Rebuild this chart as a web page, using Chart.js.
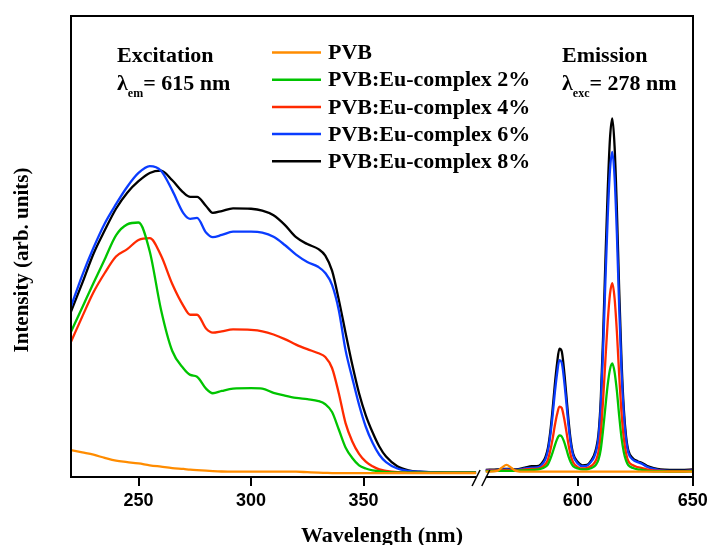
<!DOCTYPE html>
<html>
<head>
<meta charset="utf-8">
<script src="https://cdn.jsdelivr.net/npm/chart.js@4.4.1/dist/chart.umd.min.js"></script>
<style>
  html, body { margin: 0; padding: 0; background: #fff; overflow: hidden; }
  #wrap { width: 720px; height: 545px; }
</style>
</head>
<body>
<div id="wrap"><canvas id="chart"></canvas></div>
<script>
// excitation spectra, monitored at 615 nm
const excWl  = [220,225,230,235,240,245,250,255,260,265,270,273,276,280,283,287,292,300,305,310,
                315,320,325,330,333,336,339,342,345,348,351,354,357,360,365,370,375,380,390,400];
const excPVB = [5.4,4.9,4.4,3.7,3.1,2.8,2.5,2.1,1.8,1.5,1.3,1.15,1.05,0.95,0.85,0.75,0.7,0.7,0.7,0.7,
                0.7,0.7,0.6,0.5,0.45,0.4,0.4,0.4,0.4,0.4,0.4,0.4,0.4,0.4,0.4,0.4,0.4,0.4,0.4,0.4];
const exc2   = [31.2,36.5,41.8,47.0,52.2,54.6,55.0,48.7,36.0,27.0,23.2,21.8,21.4,18.8,17.8,18.3,18.8,18.9,18.8,17.9,
                17.3,16.8,16.5,16.1,15.4,13.7,9.9,6.0,3.7,2.1,1.4,1.0,0.8,0.6,0.5,0.5,0.5,0.5,0.5,0.5];
const exc4   = [29.0,34.5,39.8,44.0,47.6,49.2,51.2,51.6,47.8,41.6,36.8,34.9,34.9,31.9,31.0,31.3,31.7,31.6,31.3,30.6,
                29.6,28.4,27.4,26.5,25.7,23.3,17.8,11.3,7.3,4.6,2.9,1.9,1.2,0.9,0.6,0.5,0.5,0.5,0.5,0.5];
const exc6   = [36.7,43.5,49.5,54.8,59.0,62.8,65.8,67.3,66.3,62.0,57.0,55.8,56.0,52.8,51.8,52.3,53.0,53.0,52.8,51.9,
                50.1,48.0,46.4,45.3,44.0,41.4,35.9,27.2,21.1,15.3,10.5,7.0,4.4,2.8,1.4,0.9,0.7,0.6,0.5,0.5];
const exc8   = [35.6,41.8,48.2,53.3,58.0,61.5,64.0,65.8,66.3,64.2,61.5,60.6,60.6,58.6,57.1,57.5,58.1,58.0,57.6,56.6,
                54.5,51.8,50.3,49.2,47.8,44.5,38.2,31.0,24.0,17.8,13.0,9.3,6.2,4.0,1.9,1.0,0.7,0.6,0.5,0.5];

// emission spectra, excited at 278 nm
const emWl  = [560,565,567,569,571,573, 577,580,583,585,
               586,587,588,589,590,591,592,593,594,595,596,597,598,
               600,602,604,
               606,607,608,609,610,611,612,613,614,615,616,617,618,619,620,621,622,
               624,626,628,630, 633,636,640,645,650];
const emPVB = [0.7,0.9,1.6,2.2,1.6,0.9, 0.7,0.7,0.7,0.7,
               0.7,0.7,0.7,0.7,0.7,0.7,0.7,0.7,0.7,0.7,0.7,0.7,0.7,
               0.7,0.7,0.7,
               0.7,0.7,0.7,0.7,0.7,0.7,0.7,0.7,0.7,0.7,0.7,0.7,0.7,0.7,0.7,0.7,0.7,
               0.7,0.7,0.7,0.7, 0.7,0.7,0.7,0.7,0.7];
const em2   = [0.8,0.9,0.9,0.9,0.9,0.9, 1.0,1.1,1.2,1.5,
               1.8,2.3,3.4,4.8,6.4,7.8,8.6,8.4,7.3,5.7,4.0,2.7,1.9,
               1.4,1.2,1.2,
               1.5,1.8,2.3,3.3,5.6,9.8,14.8,19.6,23.0,24.3,22.4,18.3,12.9,8.2,5.0,3.1,2.1,
               1.5,1.2,1.1,0.9, 0.8,0.8,0.7,0.7,0.8];
const em4   = [0.9,1.0,1.0,1.1,1.0,1.0, 1.2,1.3,1.4,1.9,
               2.4,3.3,5.2,7.7,10.7,13.2,14.9,14.6,12.5,9.6,6.5,4.1,2.7,
               1.7,1.4,1.5,
               2.0,2.5,3.3,5.0,9.0,16.3,25.0,33.3,39.4,41.8,38.5,31.2,21.8,13.6,8.0,4.7,3.0,
               2.1,1.7,1.5,1.2, 1.0,0.9,0.8,0.8,0.9];
const em6   = [1.0,1.1,1.2,1.2,1.2,1.1, 1.4,1.6,1.7,2.6,
               3.5,5.2,8.4,12.7,17.8,22.1,25.0,24.5,20.9,15.9,10.7,6.6,4.2,
               2.5,1.9,2.0,
               3.0,3.8,5.2,8.1,15.0,27.2,42.1,56.0,66.4,70.4,64.9,52.5,36.6,22.8,13.2,7.6,4.8,
               3.3,2.8,2.4,1.8, 1.3,1.0,0.9,0.9,1.0];
const em8   = [1.1,1.2,1.3,1.3,1.3,1.2, 1.6,1.9,2.0,3.0,
               4.0,5.8,9.2,14.0,19.6,24.3,27.5,27.0,23.0,17.5,11.8,7.3,4.6,
               2.8,2.1,2.2,
               3.3,4.2,5.8,8.9,16.5,30.0,46.5,61.8,73.3,77.7,71.6,57.9,40.4,25.2,14.5,8.4,5.3,
               3.6,3.0,2.6,2.0, 1.5,1.2,1.1,1.1,1.2];

const seriesNames  = ['PVB', 'PVB:Eu-complex 2%', 'PVB:Eu-complex 4%', 'PVB:Eu-complex 6%', 'PVB:Eu-complex 8%'];
const seriesColors = ['#ff8c00', '#00c400', '#ff2a00', '#0a3cff', '#000000'];
const tickWl = [250, 300, 350, 600, 650];

// broken x axis: the emission window (560-650) sits right after 400
function axisX(w) { return w <= 400 ? w : 445.2 + (w - 600) * 1.022; }
function wlFromAxis(u) { return u <= 400 ? u : 600 + (u - 445.2) / 1.022; }

const excSets = [excPVB, exc2, exc4, exc6, exc8];
const emSets = [emPVB, em2, em4, em6, em8];

const datasets = seriesNames.map((name, k) => ({
    label: name,
    data: excWl.map((w, i) => ({ x: axisX(w), y: excSets[k][i] }))
        .concat([{ x: 402, y: null }])
        .concat(emWl.map((w, i) => ({ x: axisX(w), y: emSets[k][i] }))),
    borderColor: seriesColors[k],
    borderWidth: 2.3,
    pointRadius: 0,
    cubicInterpolationMode: 'monotone',
    spanGaps: false
}));

const SERIF = '"Liberation Serif", "Times New Roman", serif';

function lambdaLabel(ctx, x, y, sub, rest) {
    ctx.font = 'bold 22px ' + SERIF;
    ctx.fillText('λ', x, y);
    let cx = x + ctx.measureText('λ').width;
    ctx.font = 'bold 12px ' + SERIF;
    ctx.fillText(sub, cx, y + 7);
    cx += ctx.measureText(sub).width;
    ctx.font = 'bold 22px ' + SERIF;
    ctx.fillText(rest, cx, y);
}

const decor = {
    id: 'decor',
    afterDraw(chart) {
        const { ctx, chartArea: a, scales: { x } } = chart;
        ctx.save();

        // frame with broken bottom axis
        const xb1 = x.getPixelForValue(axisX(400));
        const xb2 = x.getPixelForValue(axisX(560));
        ctx.strokeStyle = '#000';
        ctx.lineWidth = 2;
        ctx.beginPath();
        ctx.moveTo(xb1, a.bottom);
        ctx.lineTo(a.left, a.bottom);
        ctx.lineTo(a.left, a.top);
        ctx.lineTo(a.right, a.top);
        ctx.lineTo(a.right, a.bottom);
        ctx.lineTo(xb2, a.bottom);
        ctx.stroke();
        ctx.lineWidth = 1.5;
        [xb1, xb2].forEach(xc => {
            ctx.beginPath();
            ctx.moveTo(xc - 4, a.bottom + 9);
            ctx.lineTo(xc + 4, a.bottom - 7);
            ctx.stroke();
        });

        // y axis title
        ctx.fillStyle = '#000';
        ctx.save();
        ctx.translate(23, 260);
        ctx.rotate(-Math.PI / 2);
        ctx.textAlign = 'center';
        ctx.textBaseline = 'middle';
        ctx.font = 'bold 21px ' + SERIF;
        ctx.fillText('Intensity (arb. units)', 0, 0);
        ctx.restore();

        // annotations
        ctx.textAlign = 'left';
        ctx.textBaseline = 'alphabetic';
        ctx.font = 'bold 22px ' + SERIF;
        ctx.fillText('Excitation', 117, 62);
        lambdaLabel(ctx, 117, 90, 'em', '= 615 nm');
        ctx.font = 'bold 22px ' + SERIF;
        ctx.fillText('Emission', 562, 62);
        lambdaLabel(ctx, 562, 90, 'exc', '= 278 nm');

        // legend
        seriesNames.forEach((name, i) => {
            const y = 52.5 + i * 27.2;
            ctx.strokeStyle = seriesColors[i];
            ctx.lineWidth = 2.5;
            ctx.beginPath();
            ctx.moveTo(272, y);
            ctx.lineTo(321, y);
            ctx.stroke();
            ctx.fillStyle = '#000';
            ctx.font = 'bold 22px ' + SERIF;
            ctx.textBaseline = 'middle';
            ctx.fillText(name, 328, y + 1);
        });
        ctx.restore();
    }
};

new Chart(document.getElementById('chart'), {
    type: 'line',
    data: { datasets },
    plugins: [decor],
    options: {
        responsive: true,
        maintainAspectRatio: false,
        animation: false,
        layout: { padding: { top: 16, right: 27, left: 0, bottom: 0 } },
        plugins: {
            legend: { display: false },
            tooltip: { enabled: false }
        },
        scales: {
            x: {
                type: 'linear',
                min: 220,
                max: 496.4,
                border: { display: false },
                grid: { display: true, drawOnChartArea: false, drawTicks: true, tickLength: 9, color: '#000', lineWidth: 2 },
                afterBuildTicks: s => { s.ticks = tickWl.map(w => ({ value: axisX(w) })); },
                afterFit: s => { s.height = 68; },
                ticks: {
                    padding: 4,
                    color: '#000',
                    font: { family: '"Liberation Sans", Arial, sans-serif', size: 18, weight: 'bold' },
                    callback: v => Math.round(wlFromAxis(v))
                },
                title: {
                    display: true,
                    text: 'Wavelength (nm)',
                    color: '#000',
                    padding: 0,
                    font: { family: SERIF, size: 22, weight: 'bold', lineHeight: 0.82 }
                }
            },
            y: {
                min: -0.45,
                max: 100,
                border: { display: false },
                grid: { display: false },
                ticks: { display: false },
                afterFit: s => { s.width = 71; }
            }
        }
    }
});
</script>
</body>
</html>
